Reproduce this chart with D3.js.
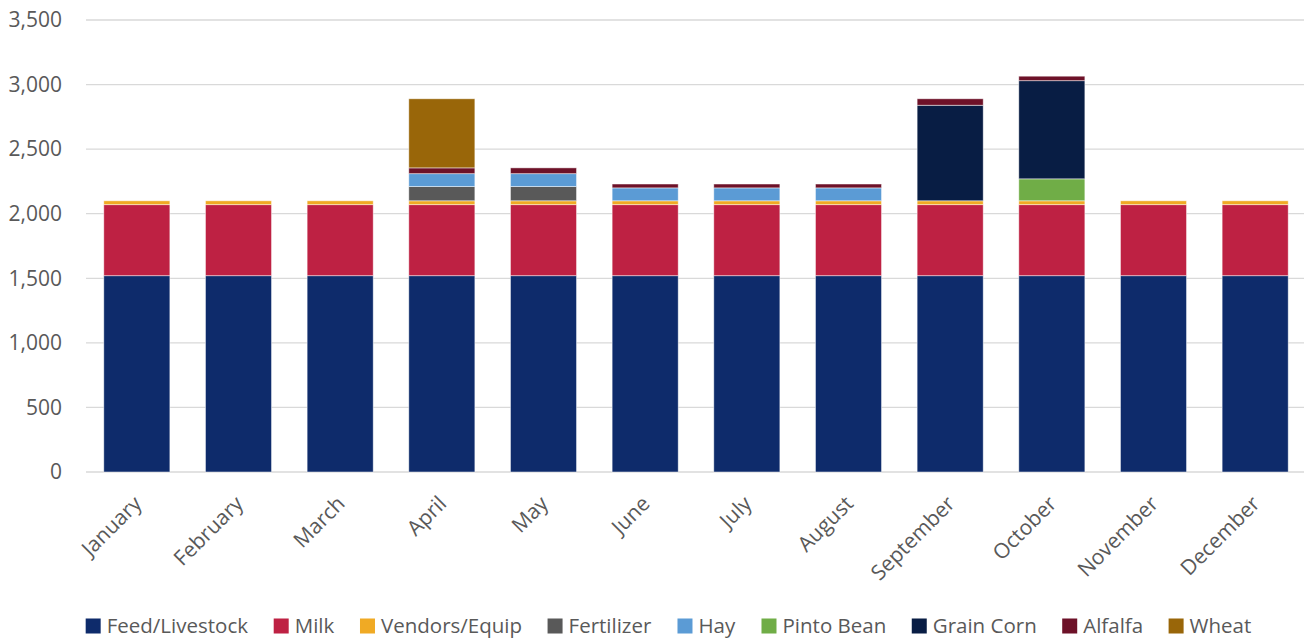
<!DOCTYPE html>
<html><head><meta charset="utf-8">
<script src="https://cdn.jsdelivr.net/npm/d3@7"></script>
<style>body{margin:0;background:#fff;}svg{display:block;font-family:"Open Sans","Liberation Sans",sans-serif;}</style>
</head><body><svg id="c" width="1304" height="639"></svg>
<script>
const months = ["January","February","March","April","May","June","July","August","September","October","November","December"];
const seriesNames = ["Feed/Livestock","Milk","Vendors/Equip","Fertilizer","Hay","Pinto Bean","Grain Corn","Alfalfa","Wheat"];
const feed       = [1520,1520,1520,1520,1520,1520,1520,1520,1520,1520,1520,1520];
const milk       = [550,550,550,550,550,550,550,550,550,550,550,550];
const vendors    = [30,30,30,30,30,30,30,30,30,30,30,30];
const fertilizer = [0,0,0,110,110,0,0,0,0,0,0,0];
const hay        = [0,0,0,100,100,100,100,100,0,0,0,0];
const pintoBean  = [0,0,0,0,0,0,0,0,0,170,0,0];
const grainCorn  = [0,0,0,0,0,0,0,0,740,760,0,0];
const alfalfa    = [0,0,0,45,45,30,30,30,50,35,0,0];
const wheat      = [0,0,0,535,0,0,0,0,0,0,0,0];
const yTicks = [0,500,1000,1500,2000,2500,3000,3500];
const colors = ["#0E2B6B","#BE2143","#F0AA24","#595959","#5B9BD5","#70AD47","#081D44","#6D1128","#996609"];

const seriesVals = [feed,milk,vendors,fertilizer,hay,pintoBean,grainCorn,alfalfa,wheat];
const rows = months.map((m,i)=>{const r={month:m}; seriesNames.forEach((s,j)=>r[s]=seriesVals[j][i]); return r;});
const stack = d3.stack().keys(seriesNames)(rows);

const svg = d3.select("#c");
const mLeft=86, mRight=1306, mTop=20, mBottom=472;
const x = d3.scaleBand().domain(months).range([mLeft,mRight]).paddingInner(0.35).paddingOuter(0.175);
const y = d3.scaleLinear().domain([0,3500]).range([mBottom,mTop]);

// gridlines
svg.append("g").selectAll("line").data(yTicks).join("line")
  .attr("x1",mLeft).attr("x2",mRight).attr("y1",d=>y(d)).attr("y2",d=>y(d))
  .attr("stroke","#d9d9d9").attr("stroke-width",1.3);

// y axis labels
const yAxis = d3.axisLeft(y).tickValues(yTicks).tickFormat(d3.format(",")).tickSize(0).tickPadding(24);
const ga = svg.append("g").attr("transform",`translate(${mLeft},0)`).call(yAxis);
ga.select(".domain").remove();
ga.selectAll("text").attr("font-size",21).attr("fill","#595959").attr("font-family","Open Sans");

// bars
svg.append("g").selectAll("g").data(stack).join("g").attr("fill",(d,i)=>colors[i])
  .selectAll("rect").data(d=>d).join("rect")
  .attr("x",d=>x(d.data.month)).attr("width",x.bandwidth())
  .attr("y",d=>y(d[1])).attr("height",d=>Math.max(0,y(d[0])-y(d[1])))
  .attr("stroke","#fff").attr("stroke-opacity",0.6).attr("stroke-width",0.8)
  .attr("display",d=>d[1]-d[0]>0?null:"none");

// x axis labels
const xAxis = d3.axisBottom(x).tickSize(0).tickPadding(0);
const gx = svg.append("g").attr("transform",`translate(0,${mBottom})`).call(xAxis);
gx.select(".domain").remove();
gx.selectAll("text").attr("font-size",21).attr("fill","#595959").attr("font-family","Open Sans")
  .attr("text-anchor","end").attr("dy",0)
  .attr("transform","translate(6,33) rotate(-45)");

// legend
const lg = svg.append("g").attr("transform","translate(0,626)");
const items = lg.selectAll("g").data(seriesNames).join("g");
items.append("rect").attr("width",15).attr("height",15).attr("y",-7.5).attr("fill",(d,i)=>colors[i]);
items.append("text").text(d=>d).attr("x",21).attr("dy","0.36em").attr("font-size",20.5).attr("fill","#595959").attr("font-family","Open Sans");
let cx=0; const offs=[]; const gap=25.5;
items.each(function(){const w=this.getBBox().width; offs.push(cx); cx+=w+gap;});
const total = cx-gap; const start = 668.5 - total/2;
items.attr("transform",(d,i)=>`translate(${start+offs[i]},0)`);
</script></body></html>
